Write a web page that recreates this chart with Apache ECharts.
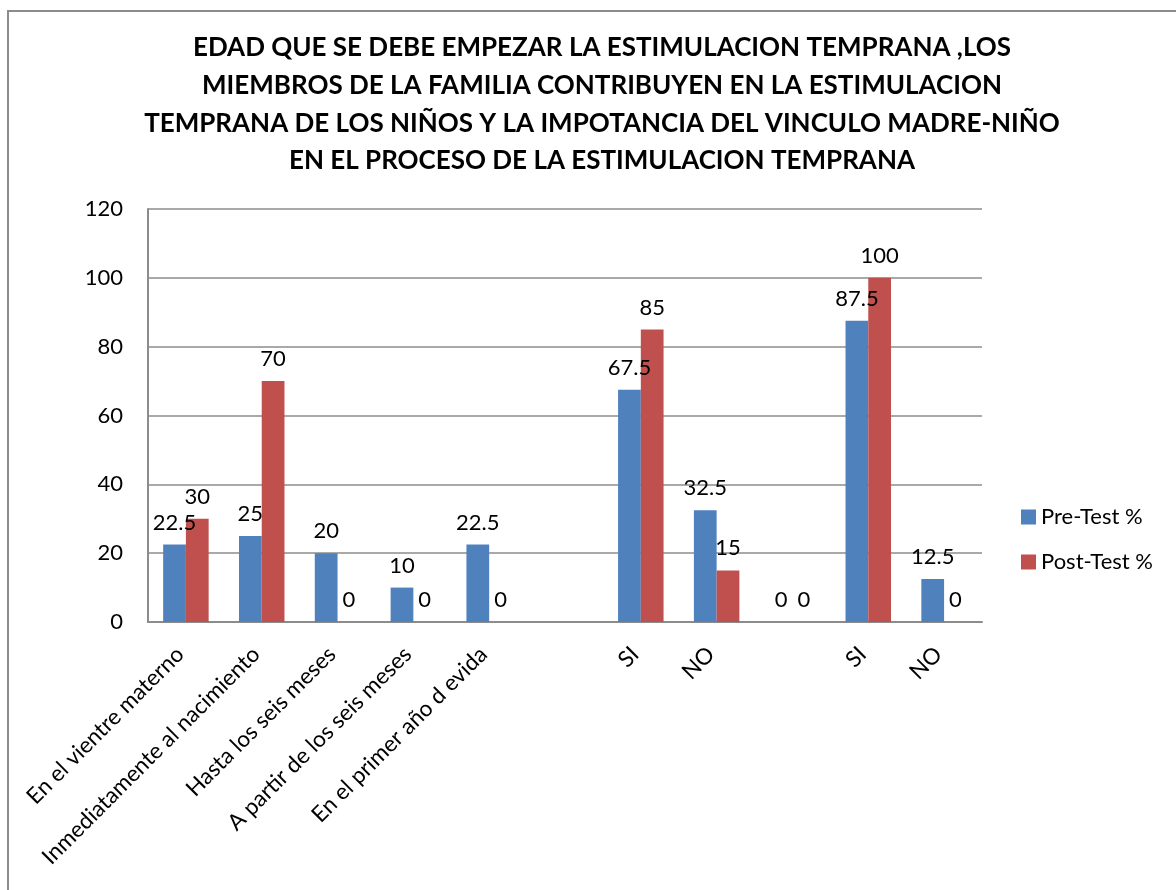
<!DOCTYPE html>
<html>
<head>
<meta charset="utf-8">
<script src="https://cdn.jsdelivr.net/npm/echarts@6/dist/echarts.min.js"></script>
<style>
  html, body { margin: 0; padding: 0; background: #ffffff; }
  #chart { width: 1176px; height: 890px; }
</style>
</head>
<body>
<div id="chart"></div>
<script>
// Response categories: age to start, family contribution (SI/NO), mother-child bond (SI/NO)
const categories = [
  'En el vientre materno',
  'Inmediatamente al nacimiento',
  'Hasta los seis meses',
  'A partir de los seis meses',
  'En el primer año d evida',
  '',
  'SI',
  'NO',
  ' ',
  'SI',
  'NO'
];
const preTest = [22.5, 25, 20, 10, 22.5, null, 67.5, 32.5, 0, 87.5, 12.5];
const postTest = [30, 70, 0, 0, 0, null, 85, 15, 0, 100, 0];
const seriesNames = ['Pre-Test %', 'Post-Test %'];
const titleText = 'EDAD QUE SE DEBE EMPEZAR LA ESTIMULACION TEMPRANA ,LOS\n' +
  'MIEMBROS DE LA FAMILIA CONTRIBUYEN EN LA ESTIMULACION\n' +
  'TEMPRANA DE LOS NIÑOS Y LA IMPOTANCIA DEL VINCULO MADRE-NIÑO\n' +
  'EN EL PROCESO DE LA ESTIMULACION TEMPRANA';

const FONT = 'Lato, "Noto Sans", sans-serif';

const chart = echarts.init(document.getElementById('chart'), null, { renderer: 'canvas' });

const labelStyle = {
  show: true,
  position: 'top',
  distance: 11,
  color: '#000',
  fontFamily: FONT,
  fontSize: 22
};

chart.setOption({
  animation: false,
  backgroundColor: '#ffffff',
  graphic: [{
    type: 'rect',
    shape: { x: 8, y: 11, width: 1200, height: 900 },
    style: { fill: 'none', stroke: '#8c8c8c', lineWidth: 2 },
    silent: true,
    z: -10
  }],
  title: {
    text: titleText,
    left: 597,
    top: 24,
    textAlign: 'center',
    textStyle: {
      fontFamily: FONT,
      fontWeight: 'bold',
      fontSize: 26,
      lineHeight: 37.7,
      color: '#000'
    }
  },
  legend: {
    orient: 'vertical',
    left: 1016,
    top: 501,
    itemWidth: 15,
    itemHeight: 15,
    itemGap: 23,
    icon: 'rect',
    data: seriesNames,
    textStyle: { fontFamily: FONT, fontSize: 22, color: '#000' }
  },
  grid: {
    left: 148,
    top: 209,
    right: 194,
    bottom: 268,
    show: false
  },
  xAxis: {
    type: 'category',
    data: categories,
    axisLine: { show: true, lineStyle: { color: '#8c8c8c', width: 2 } },
    axisTick: { show: false },
    axisLabel: {
      interval: 0,
      rotate: 45,
      margin: 23,
      padding: [0, 8, 0, 0],
      color: '#000',
      fontFamily: FONT,
      fontSize: 22.5
    }
  },
  yAxis: {
    type: 'value',
    min: 0,
    max: 120,
    interval: 20,
    axisLine: { show: true, lineStyle: { color: '#8c8c8c', width: 2 } },
    axisTick: { show: false },
    splitLine: { show: true, lineStyle: { color: '#8c8c8c', width: 1.5 } },
    axisLabel: {
      margin: 25,
      color: '#000',
      fontFamily: FONT,
      fontSize: 22
    }
  },
  series: [
    {
      name: seriesNames[0],
      type: 'bar',
      data: preTest,
      barGap: '0%',
      barCategoryGap: '40%',
      itemStyle: { color: '#4F81BD' },
      label: labelStyle
    },
    {
      name: seriesNames[1],
      type: 'bar',
      data: postTest,
      barGap: '0%',
      barCategoryGap: '40%',
      itemStyle: { color: '#C0504D' },
      label: labelStyle
    }
  ]
});
</script>
</body>
</html>
